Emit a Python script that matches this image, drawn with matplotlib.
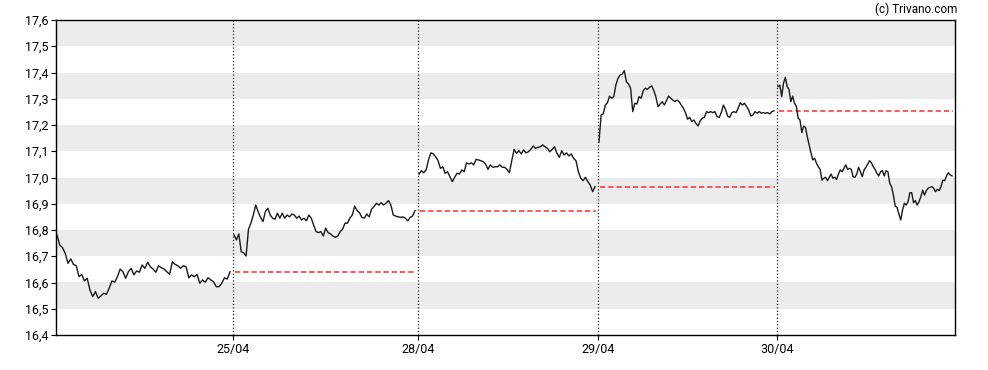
import matplotlib
matplotlib.use("Agg")
import matplotlib.pyplot as plt
import numpy as np

plt.rcParams['font.family'] = ['Roboto', 'DejaVu Sans']

# session labels and relative session widths (in quote slots)
day_labels = ['24/04', '25/04', '28/04', '29/04', '30/04']
day_len = [177, 185, 180, 179, 178]

# intraday prices, one list per session
d0 = [16.781, 16.743, 16.733, 16.711, 16.673, 16.690, 16.669, 16.664, 16.622, 16.631,
      16.606, 16.616, 16.571, 16.546, 16.565, 16.540, 16.549, 16.559, 16.555, 16.578,
      16.606, 16.601, 16.622, 16.651, 16.641, 16.616, 16.641, 16.654, 16.629, 16.644,
      16.639, 16.667, 16.654, 16.677, 16.660, 16.651, 16.639, 16.664, 16.656, 16.651,
      16.641, 16.631, 16.679, 16.669, 16.664, 16.654, 16.664, 16.660, 16.618, 16.629,
      16.622, 16.631, 16.597, 16.610, 16.601, 16.618, 16.610, 16.603, 16.584, 16.584,
      16.597, 16.618, 16.613, 16.641]
d1 = [16.781, 16.762, 16.785, 16.717, 16.713, 16.701, 16.803, 16.826, 16.857, 16.895,
      16.870, 16.848, 16.832, 16.870, 16.883, 16.857, 16.845, 16.841, 16.864, 16.845,
      16.864, 16.845, 16.857, 16.850, 16.861, 16.857, 16.845, 16.853, 16.838, 16.845,
      16.835, 16.857, 16.845, 16.819, 16.794, 16.790, 16.794, 16.777, 16.807, 16.790,
      16.785, 16.777, 16.772, 16.777, 16.794, 16.803, 16.826, 16.826, 16.845, 16.857,
      16.891, 16.874, 16.866, 16.848, 16.845, 16.861, 16.850, 16.879, 16.889, 16.902,
      16.895, 16.904, 16.895, 16.902, 16.912, 16.895, 16.857, 16.853, 16.850, 16.848,
      16.850, 16.845, 16.835, 16.848, 16.853, 16.874]
d2 = [17.013, 17.026, 17.018, 17.029, 17.067, 17.094, 17.090, 17.079, 17.064, 17.035,
      17.041, 17.016, 17.022, 17.003, 16.984, 17.001, 17.016, 17.013, 17.029, 17.022,
      17.056, 17.051, 17.056, 17.048, 17.069, 17.067, 17.064, 17.060, 17.051, 17.031,
      17.048, 17.039, 17.041, 17.041, 17.048, 17.039, 17.039, 17.031, 17.018, 17.064,
      17.107, 17.092, 17.102, 17.090, 17.105, 17.094, 17.098, 17.107, 17.120, 17.111,
      17.115, 17.117, 17.124, 17.117, 17.111, 17.098, 17.107, 17.117, 17.092, 17.077,
      17.102, 17.086, 17.094, 17.082, 17.090, 17.073, 17.064, 17.022, 16.997, 16.988,
      17.001, 16.984, 16.971, 16.946, 16.965]
d3 = [17.136, 17.238, 17.242, 17.276, 17.285, 17.310, 17.302, 17.308, 17.352, 17.378,
      17.390, 17.394, 17.407, 17.365, 17.356, 17.340, 17.251, 17.283, 17.280, 17.308,
      17.302, 17.331, 17.340, 17.336, 17.344, 17.349, 17.331, 17.306, 17.270, 17.280,
      17.289, 17.276, 17.293, 17.310, 17.302, 17.295, 17.289, 17.295, 17.289, 17.276,
      17.264, 17.247, 17.222, 17.229, 17.213, 17.219, 17.206, 17.196, 17.216, 17.226,
      17.229, 17.251, 17.247, 17.251, 17.247, 17.251, 17.232, 17.229, 17.247, 17.276,
      17.260, 17.234, 17.229, 17.247, 17.251, 17.247, 17.264, 17.285, 17.276, 17.283,
      17.270, 17.257, 17.234, 17.238, 17.251, 17.245, 17.251, 17.245, 17.247, 17.245,
      17.247, 17.242, 17.251, 17.254]
d4 = [17.346, 17.352, 17.308, 17.359, 17.382, 17.346, 17.336, 17.289, 17.310, 17.283,
      17.272, 17.226, 17.219, 17.171, 17.196, 17.191, 17.155, 17.124, 17.094, 17.067,
      17.073, 17.054, 17.041, 17.031, 16.990, 16.997, 17.001, 16.988, 17.001, 17.013,
      16.997, 17.001, 16.993, 17.013, 17.029, 17.022, 17.035, 17.048, 17.031, 17.035,
      17.031, 17.003, 17.001, 17.013, 17.039, 17.022, 17.003, 17.029, 17.039, 17.051,
      17.064, 17.056, 17.041, 17.031, 17.016, 17.006, 17.022, 17.026, 17.006, 17.026,
      17.022, 16.978, 16.965, 16.933, 16.891, 16.886, 16.861, 16.838, 16.876, 16.902,
      16.895, 16.908, 16.942, 16.942, 16.904, 16.912, 16.895, 16.908, 16.927, 16.952,
      16.933, 16.950, 16.959, 16.963, 16.965, 16.959, 16.946, 16.955, 16.950, 16.965,
      16.990, 16.988, 17.006, 17.018, 17.010, 17.006]
days = [d0, d1, d2, d3, d4]

y_min, y_max, y_step = 16.4, 17.6, 0.1

fig = plt.figure(figsize=(9.88, 3.70), dpi=100)
ax = fig.add_axes([56 / 988, 35 / 370, 899 / 988, 315 / 370])

# alternating grey bands
levels = np.round(np.arange(y_min, y_max + y_step / 2, y_step), 1)
for i in range(len(levels) - 1):
    if i % 2 == 1:
        ax.axhspan(levels[i], levels[i + 1], color='#ececec', lw=0, zorder=0)

starts = np.concatenate([[0], np.cumsum(day_len)[:-1]])
for i, vals in enumerate(days):
    s = starts[i]
    xs = np.linspace(s + 1, s + day_len[i] - 3, len(vals))
    ax.plot(xs, vals, color='#1a1a1a', lw=1.0, zorder=3)
    if i > 0:
        prev_close = days[i - 1][-1]
        ax.plot([s + 2, s + day_len[i] - 2], [prev_close, prev_close],
                color='#ff2a2a', lw=1.1, dashes=(3.4, 2.0), zorder=2)
        ax.axvline(s, color='black', lw=0.9, dashes=(0.9, 1.8), zorder=2)

ax.set_xlim(0, sum(day_len))
ax.set_ylim(y_min, y_max)
ax.set_xticks(starts[1:])
ax.set_xticklabels(day_labels[1:])
ax.set_yticks(levels)
ax.set_yticklabels([f'{v:.1f}'.replace('.', ',') for v in levels])
ax.tick_params(axis='both', labelsize=9, length=3.5, width=0.8, pad=2, colors='black')
for sp in ax.spines.values():
    sp.set_linewidth(1.0)
    sp.set_color('black')

fig.text(957 / 988, 1 - 9 / 370, '(c) Trivano.com', ha='right', va='center', fontsize=8.5)

plt.savefig('out.png', dpi=100)
